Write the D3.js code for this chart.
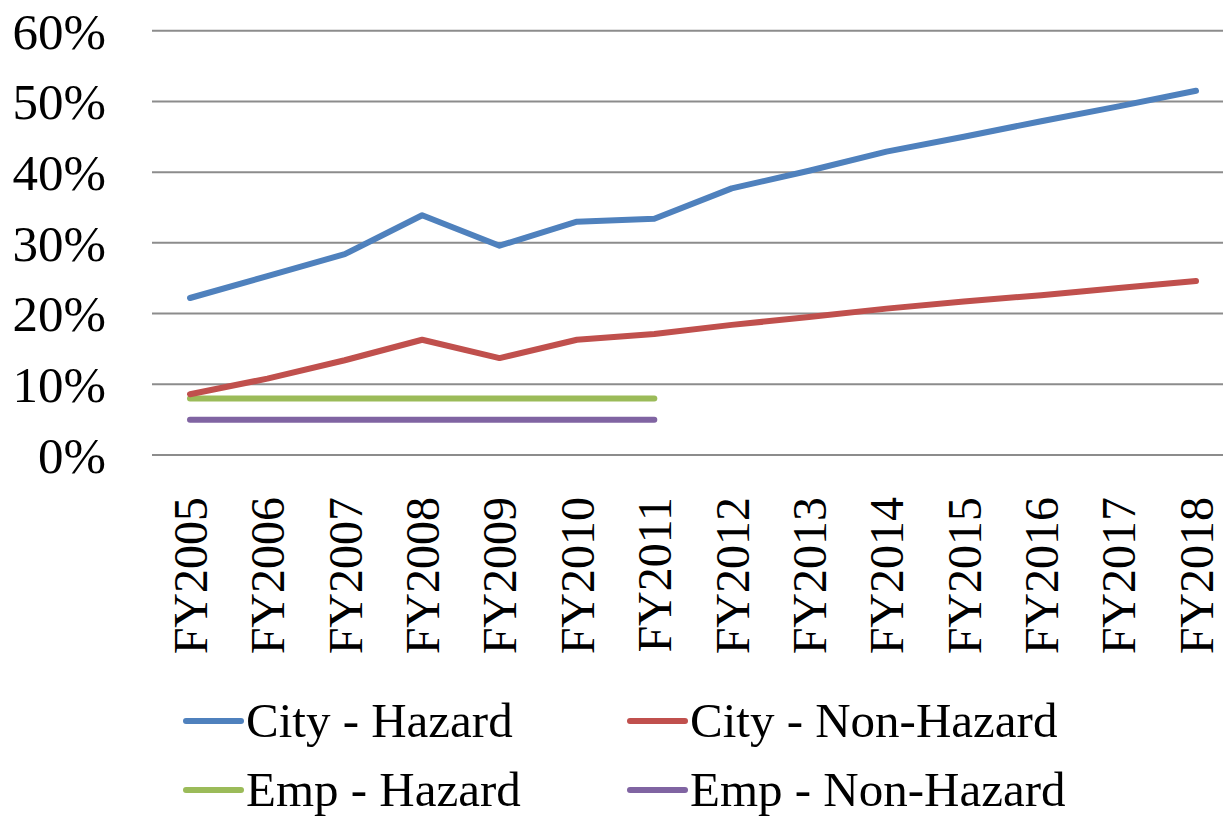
<!DOCTYPE html>
<html>
<head>
<meta charset="utf-8">
<script src="https://cdn.jsdelivr.net/npm/d3@7"></script>
<style>
  body { margin: 0; background: #fff; }
  text { font-family: "Liberation Serif", serif; fill: #000; }
</style>
</head>
<body>
<script>
var years = ['FY2005','FY2006','FY2007','FY2008','FY2009','FY2010','FY2011','FY2012','FY2013','FY2014','FY2015','FY2016','FY2017','FY2018'];

var cityHazard    = [0.222, 0.253, 0.284, 0.339, 0.296, 0.330, 0.334, 0.377, 0.402, 0.429, 0.450, 0.472, 0.493, 0.515];
var cityNonHazard = [0.086, 0.108, 0.134, 0.163, 0.137, 0.163, 0.171, 0.184, 0.195, 0.207, 0.217, 0.226, 0.236, 0.246];
var empHazard     = [0.08, 0.08, 0.08, 0.08, 0.08, 0.08, 0.08];
var empNonHazard  = [0.05, 0.05, 0.05, 0.05, 0.05, 0.05, 0.05];

var seriesNames = ['City - Hazard', 'City - Non-Hazard', 'Emp - Hazard', 'Emp - Non-Hazard'];
var colors = ['#4F81BD', '#C0504D', '#9BBB59', '#8064A2'];
var yTicks = [0, 0.1, 0.2, 0.3, 0.4, 0.5, 0.6];

var width = 1223, height = 818;
var margin = {left: 152, top: 30.7, bottom: 455};

var svg = d3.select("body").append("svg").attr("width", width).attr("height", height);

var x = d3.scalePoint()
          .domain(years)
          .range([190, 1196]);

var y = d3.scaleLinear()
          .domain([0, 0.6])
          .range([margin.bottom, margin.top]);

// gridlines
svg.append("g")
    .selectAll("line")
    .data(yTicks)
    .enter().append("line")
    .attr("x1", margin.left).attr("x2", width)
    .attr("y1", function(d) { return y(d); })
    .attr("y2", function(d) { return y(d); })
    .attr("stroke", "#8c8c8c")
    .attr("stroke-width", 2);

// y axis labels
var yAxis = d3.axisLeft(y).tickValues(yTicks).tickFormat(d3.format(".0%")).tickSize(0).tickPadding(0);
var yG = svg.append("g").attr("transform", "translate(106,0)").call(yAxis);
yG.select(".domain").remove();
yG.selectAll("text").attr("font-size", 51).attr("font-family", "Liberation Serif").attr("dy", "0.34em");

// x axis labels (rotated)
var xAxis = d3.axisBottom(x).tickSize(0).tickPadding(0);
var xG = svg.append("g").attr("transform", "translate(0,497)").call(xAxis);
xG.select(".domain").remove();
xG.selectAll("text")
    .attr("font-size", 48)
    .attr("font-family", "Liberation Serif")
    .attr("text-anchor", "end")
    .attr("transform", "rotate(-90)")
    .attr("x", 0)
    .attr("y", 0)
    .attr("dy", "0.34em");

var line = d3.line()
    .x(function(d, i) { return x(years[i]); })
    .y(function(d) { return y(d); });

var allSeries = [cityHazard, cityNonHazard, empHazard, empNonHazard];

// draw bottom series first so city lines sit on top
[3, 2, 1, 0].forEach(function(k) {
  svg.append("path")
      .attr("d", line(allSeries[k]))
      .attr("fill", "none")
      .attr("stroke", colors[k])
      .attr("stroke-width", 6)
      .attr("stroke-linecap", "round")
      .attr("stroke-linejoin", "round");
});

// legend
var legX = [186, 630];
var legY = [721, 790];
seriesNames.forEach(function(name, k) {
  var lx = legX[k % 2], ly = legY[Math.floor(k / 2)];
  svg.append("line")
      .attr("x1", lx).attr("x2", lx + 55)
      .attr("y1", ly).attr("y2", ly)
      .attr("stroke", colors[k])
      .attr("stroke-width", 6)
      .attr("stroke-linecap", "round");
  svg.append("text")
      .attr("x", lx + 60)
      .attr("y", ly + 16)
      .attr("font-size", 49)
      .text(name);
});
</script>
</body>
</html>
